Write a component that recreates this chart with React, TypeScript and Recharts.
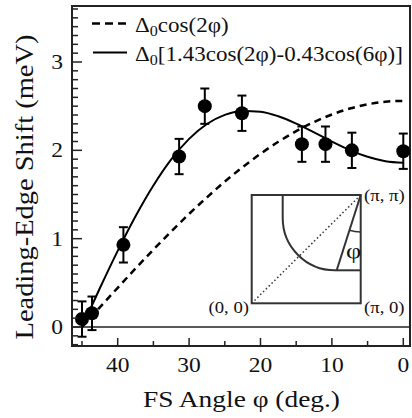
import React from 'react';
import {
  ComposedChart,
  Line,
  Scatter,
  XAxis,
  YAxis,
  ErrorBar,
  ReferenceLine,
  ReferenceArea,
} from 'recharts';

// Measured leading-edge shifts
const fsAngles = [45.0, 43.6, 39.2, 31.4, 27.8, 22.6, 14.2, 10.9, 7.2, 0.0];
const edgeShifts = [0.09, 0.155, 0.93, 1.93, 2.5, 2.42, 2.07, 2.07, 2.0, 1.99];
const edgeErrors = [0.2, 0.19, 0.2, 0.2, 0.2, 0.2, 0.2, 0.2, 0.2, 0.2];

// Curves
const curveAngles = [45, 42.5, 40, 37.5, 35, 32.5, 30, 27.5, 25, 22.5, 20, 17.5, 15, 12.5, 10, 7.5, 5, 2.5, 0];
const dWaveValues = [0, 0.223, 0.444, 0.663, 0.876, 1.082, 1.28, 1.468, 1.646, 1.81, 1.961, 2.097, 2.217, 2.32, 2.406, 2.473, 2.521, 2.55, 2.56];
const mixedValues = [0, 0.439, 0.862, 1.254, 1.602, 1.897, 2.13, 2.298, 2.402, 2.446, 2.437, 2.386, 2.303, 2.204, 2.099, 2.003, 1.927, 1.877, 1.86];

// Axes
const xTicks = [45, 40, 35, 30, 25, 20, 15, 10, 5, 0];
const yTicks = [-0.2, -0.1, 0, 0.1, 0.2, 0.3, 0.4, 0.5, 0.6, 0.7, 0.8, 0.9, 1, 1.1, 1.2, 1.3, 1.4, 1.5, 1.6, 1.7, 1.8, 1.9, 2, 2.1, 2.2, 2.3, 2.4, 2.5, 2.6, 2.7, 2.8, 2.9, 3, 3.1, 3.2, 3.3, 3.4, 3.5, 3.6];
const xDomain = [-0.94, 46.4];
const yDomain = [-0.215, 3.634];

const xTitle = 'FS Angle \u03c6 (deg.)';
const yTitle = 'Leading-Edge Shift (meV)';

const pointData = fsAngles.map((phi, i) => ({ phi, shift: edgeShifts[i], err: edgeErrors[i] }));
const dWaveData = curveAngles.map((phi, i) => ({ phi, v: dWaveValues[i] }));
const mixedData = curveAngles.map((phi, i) => ({ phi, v: mixedValues[i] }));

const FONT = '"Liberation Serif", "Times New Roman", Times, serif';

const YTick = (props: any) => {
  const { x, y, payload } = props;
  const v = payload.value as number;
  const major = Math.abs(v - Math.round(v)) < 1e-6;
  const len = major ? 10 : 6;
  return (
    <g>
      <line x1={x} x2={x + len} y1={y} y2={y} stroke="#222" strokeWidth={1.5} />
      {major && (
        <text
          transform={`translate(${x - 9},${y + 7}) scale(1.12,1)`}
          textAnchor="end"
          fontFamily={FONT}
          fontSize={21}
          fill="#111"
        >
          {Math.round(v)}
        </text>
      )}
    </g>
  );
};

const XTick = (props: any) => {
  const { x, y, payload } = props;
  const v = payload.value as number;
  const major = v % 10 === 0;
  const len = major ? 8 : 5;
  return (
    <g>
      <line x1={x} x2={x} y1={y} y2={y - len} stroke="#222" strokeWidth={1.5} />
      {major && (
        <text
          transform={`translate(${x},${y + 26}) scale(1.12,1)`}
          textAnchor="middle"
          fontFamily={FONT}
          fontSize={21}
          fill="#111"
        >
          {v}
        </text>
      )}
    </g>
  );
};

const Dot = (p: any) => <circle cx={p.cx} cy={p.cy} r={7} fill="#000" />;

export default function App() {
  return (
    <div style={{ position: 'absolute', left: 0, top: 0, width: 412, height: 418, background: '#fff' }}>
      <ComposedChart width={412} height={418} margin={{ top: 6, right: 2, left: 12, bottom: 0 }}>
        <XAxis
          dataKey="phi"
          type="number"
          domain={xDomain}
          reversed
          allowDataOverflow
          ticks={xTicks}
          interval={0}
          tick={<XTick />}
          tickLine={false}
          tickSize={0}
          tickMargin={0}
          axisLine={false}
          height={72}
        />
        <YAxis
          type="number"
          domain={yDomain}
          allowDataOverflow
          ticks={yTicks}
          interval={0}
          tick={<YTick />}
          tickLine={false}
          tickSize={0}
          tickMargin={0}
          axisLine={false}
          width={60}
        />
        <ReferenceArea
          x1={xDomain[0]}
          x2={xDomain[1]}
          y1={yDomain[0]}
          y2={yDomain[1]}
          fill="none"
          fillOpacity={0}
          stroke="#222"
          strokeWidth={2}
          ifOverflow="visible"
        />
        <ReferenceLine y={0} stroke="#222" strokeWidth={1.5} />
        <Line
          data={dWaveData}
          dataKey="v"
          type="monotone"
          dot={false}
          stroke="#000"
          strokeWidth={2.5}
          strokeDasharray="7 5"
          isAnimationActive={false}
        />
        <Line
          data={mixedData}
          dataKey="v"
          type="monotone"
          dot={false}
          stroke="#000"
          strokeWidth={2}
          isAnimationActive={false}
        />
        <Scatter data={pointData} dataKey="shift" fill="#000" shape={<Dot />} isAnimationActive={false}>
          <ErrorBar dataKey="err" direction="y" width={4.5} stroke="#000" strokeWidth={2} isAnimationActive={false} />
        </Scatter>
      </ComposedChart>
      <svg
        width={412}
        height={418}
        style={{ position: 'absolute', left: 0, top: 0, pointerEvents: 'none' }}
      >
        {/* axis titles */}
        <text
          transform="translate(33,187) rotate(-90)"
          textAnchor="middle"
          fontFamily={FONT}
          fontSize={26}
          fill="#111"
          textLength={305}
          lengthAdjust="spacingAndGlyphs"
        >
          {yTitle}
        </text>
        <text
          x={241.5}
          y={407}
          textAnchor="middle"
          fontFamily={FONT}
          fontSize={24}
          fill="#111"
          textLength={197}
          lengthAdjust="spacingAndGlyphs"
        >
          {xTitle}
        </text>
        {/* legend */}
        <line x1={92} x2={126} y1={23.5} y2={23.5} stroke="#000" strokeWidth={2.5} strokeDasharray="8 5" />
        <text transform="translate(135,32) scale(1.15,1)" fontFamily={FONT} fontSize={20} fill="#111">
          {'\u0394'}
          <tspan fontSize={14} dy={4}>0</tspan>
          <tspan dy={-4}>cos(2{'\u03c6'})</tspan>
        </text>
        <line x1={93} x2={127} y1={52.5} y2={52.5} stroke="#000" strokeWidth={2} />
        <text transform="translate(135,61) scale(1.15,1)" fontFamily={FONT} fontSize={20} fill="#111">
          {'\u0394'}
          <tspan fontSize={14} dy={4}>0</tspan>
          <tspan dy={-4}>[1.43cos(2{'\u03c6'})-0.43cos(6{'\u03c6'})]</tspan>
        </text>
        {/* inset Brillouin-zone sketch */}
        <g stroke="#333" strokeWidth={2} fill="none">
          <rect x={251.7} y={195} width={109} height={108.3} />
          <line x1={282.7} y1={195} x2={282.7} y2={218} />
          <path d="M282.7 218 A52.3 52.3 0 0 0 335 270.3" />
          <line x1={335} y1={270.3} x2={360.7} y2={270.3} />
          <line x1={360.7} y1={195} x2={336.7} y2={270.3} />
          <path d="M360.7 232 A37 37 0 0 1 349.4 230.3" strokeWidth={1.5} />
          <line x1={251.7} y1={303.3} x2={360.7} y2={195} strokeDasharray="1.5 2.5" strokeWidth={1.5} />
        </g>
        <text transform="translate(353.5,258) scale(1.2,1)" textAnchor="middle" fontFamily={FONT} fontSize={22} fill="#111">{'\u03c6'}</text>
        <text transform="translate(364,201) scale(1.1,1)" fontFamily={FONT} fontSize={17} fill="#111">({'\u03c0'}, {'\u03c0'})</text>
        <text transform="translate(364,313) scale(1.1,1)" fontFamily={FONT} fontSize={17} fill="#111">({'\u03c0'}, 0)</text>
        <text transform="translate(249,313) scale(1.1,1)" textAnchor="end" fontFamily={FONT} fontSize={17} fill="#111">(0, 0)</text>
      </svg>
    </div>
  );
}
